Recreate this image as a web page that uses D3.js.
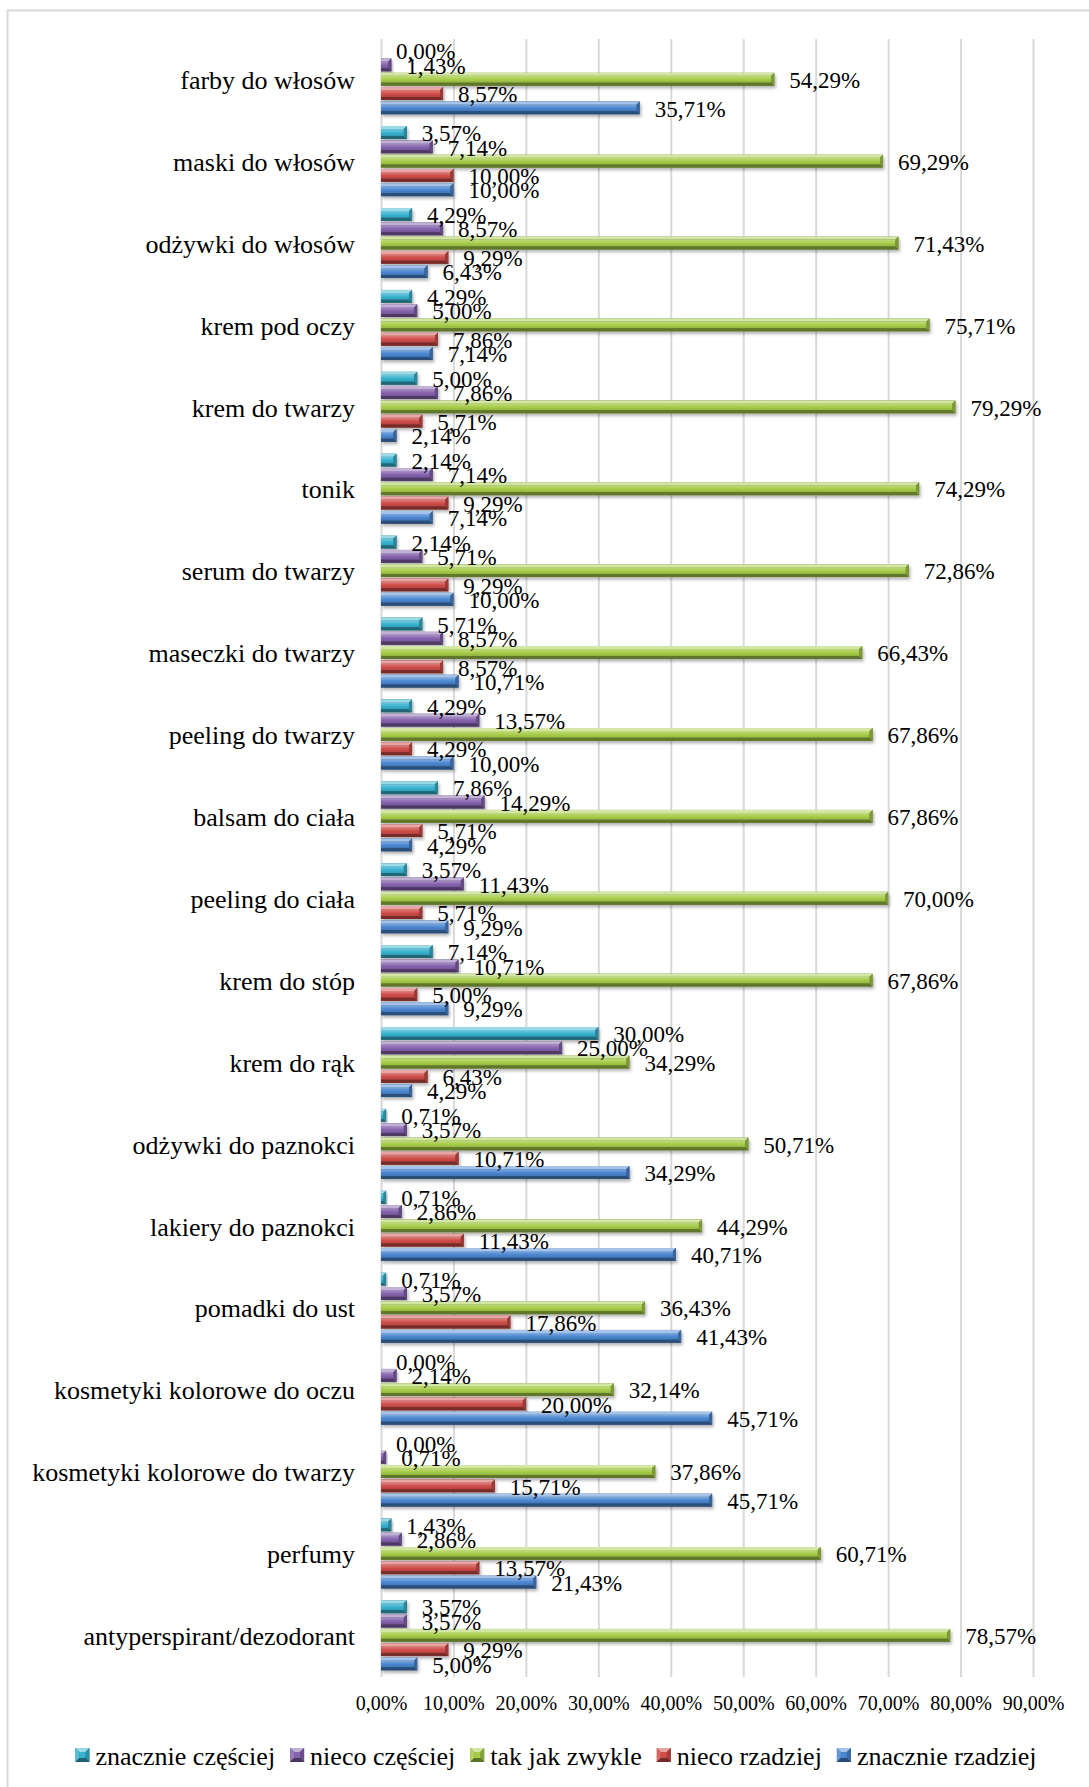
<!DOCTYPE html>
<html lang="pl">
<head>
<meta charset="utf-8">
<script src="https://cdn.jsdelivr.net/npm/d3@7"></script>
<style>
  html, body { margin: 0; padding: 0; background: #fff; }
  svg { display: block; font-family: "Liberation Serif", "Times New Roman", serif; }
</style>
</head>
<body>
<svg id="chart" width="1089" height="1787"></svg>
<script>
// Categories, top to bottom
const categories = [
  "farby do włosów", "maski do włosów", "odżywki do włosów", "krem pod oczy",
  "krem do twarzy", "tonik", "serum do twarzy", "maseczki do twarzy",
  "peeling do twarzy", "balsam do ciała", "peeling do ciała", "krem do stóp",
  "krem do rąk", "odżywki do paznokci", "lakiery do paznokci", "pomadki do ust",
  "kosmetyki kolorowe do oczu", "kosmetyki kolorowe do twarzy", "perfumy",
  "antyperspirant/dezodorant"
];

// Series names, in the order drawn inside each category (top to bottom)
const seriesNames = ["znacznie częściej", "nieco częściej", "tak jak zwykle", "nieco rzadziej", "znacznie rzadziej"];

// Percentages per series, one value per category
const znacznieCzesciej = [0.00, 3.57, 4.29, 4.29, 5.00, 2.14, 2.14, 5.71, 4.29, 7.86, 3.57, 7.14, 30.00, 0.71, 0.71, 0.71, 0.00, 0.00, 1.43, 3.57];
const niecoCzesciej    = [1.43, 7.14, 8.57, 5.00, 7.86, 7.14, 5.71, 8.57, 13.57, 14.29, 11.43, 10.71, 25.00, 3.57, 2.86, 3.57, 2.14, 0.71, 2.86, 3.57];
const takJakZwykle     = [54.29, 69.29, 71.43, 75.71, 79.29, 74.29, 72.86, 66.43, 67.86, 67.86, 70.00, 67.86, 34.29, 50.71, 44.29, 36.43, 32.14, 37.86, 60.71, 78.57];
const niecoRzadziej    = [8.57, 10.00, 9.29, 7.86, 5.71, 9.29, 9.29, 8.57, 4.29, 5.71, 5.71, 5.00, 6.43, 10.71, 11.43, 17.86, 20.00, 15.71, 13.57, 9.29];
const znacznieRzadziej = [35.71, 10.00, 6.43, 7.14, 2.14, 7.14, 10.00, 10.71, 10.00, 4.29, 9.29, 9.29, 4.29, 34.29, 40.71, 41.43, 45.71, 45.71, 21.43, 5.00];

// Axis ticks
const xTicks = [0, 10, 20, 30, 40, 50, 60, 70, 80, 90];

const seriesValues = [znacznieCzesciej, niecoCzesciej, takJakZwykle, niecoRzadziej, znacznieRzadziej];
const seriesColors = ["#38b2cf", "#8462ad", "#a6cc48", "#cf4c49", "#4a86d0"];
const seriesIds = ["s0", "s1", "s2", "s3", "s4"];

const fmt = v => d3.format(".2f")(v).replace(".", ",") + "%";
const lighten = (c, t) => d3.interpolateRgb(c, "#ffffff")(t);
const darken = (c, t) => d3.interpolateRgb(c, "#000000")(t);

const svg = d3.select("#chart");
const defs = svg.append("defs");

// Soft drop shadow under the bars
const shadow = defs.append("filter").attr("id", "barShadow")
  .attr("x", "-10%").attr("y", "-40%").attr("width", "130%").attr("height", "220%");
shadow.append("feDropShadow")
  .attr("dx", 1.5).attr("dy", 2.5).attr("stdDeviation", 1.6)
  .attr("flood-color", "#000").attr("flood-opacity", 0.3);

// Front face gradient for each series
seriesColors.forEach((c, i) => {
  const g = defs.append("linearGradient").attr("id", "grad" + i)
    .attr("x1", 0).attr("y1", 0).attr("x2", 0).attr("y2", 1);
  g.append("stop").attr("offset", "0%").attr("stop-color", lighten(c, 0.3));
  g.append("stop").attr("offset", "55%").attr("stop-color", c);
  g.append("stop").attr("offset", "100%").attr("stop-color", darken(c, 0.12));
});

// Chart border
svg.append("rect")
  .attr("x", 7.5).attr("y", 10.5).attr("width", 1200).attr("height", 1900)
  .attr("fill", "none").attr("stroke", "#d9d9d9").attr("stroke-width", 2);

const plotTop = 39, plotBottom = 1677;
const x = d3.scaleLinear().domain([0, 90]).range([381, 1033]);
const y = d3.scaleBand().domain(categories).range([plotTop, plotBottom])
  .paddingInner(0.127).paddingOuter(0.0635);
const ySeries = d3.scaleBand().domain(seriesIds).range([0, y.bandwidth()]);

// Vertical gridlines
const grid = svg.append("g")
  .attr("transform", `translate(0,${plotTop})`)
  .call(d3.axisBottom(x).tickValues(xTicks).tickSize(plotBottom - plotTop).tickFormat(""));
grid.select(".domain").remove();
grid.selectAll(".tick line").attr("stroke", "#d9d9d9").attr("stroke-width", 2);

// Tick labels
const axis = svg.append("g")
  .attr("transform", `translate(0,${plotBottom})`)
  .call(d3.axisBottom(x).tickValues(xTicks).tickSize(0).tickPadding(0)
    .tickFormat(d => d3.format(".2f")(d).replace(".", ",") + "%"));
axis.select(".domain").remove();
axis.selectAll(".tick text")
  .attr("y", 33).attr("dy", 0)
  .attr("font-family", "Liberation Serif, serif")
  .attr("font-size", 20).attr("fill", "#000");

// Category labels
svg.append("g").selectAll("text")
  .data(categories).join("text")
  .attr("x", 355)
  .attr("y", d => y(d) + y.bandwidth() / 2 + 9)
  .attr("text-anchor", "end")
  .attr("font-size", 26)
  .attr("fill", "#000")
  .text(d => d);

// Bars
const barData = [];
categories.forEach((cat, ci) => {
  seriesValues.forEach((vals, si) => {
    barData.push({ cat, si, value: vals[ci] });
  });
});

const barH = ySeries.bandwidth() * 0.9;

// Bevelled bar: front face, light top edge, dark bottom edge, slanted end facet
function drawBevelBar(g, w, h, c, withShadow) {
  const b = Math.min(3, w / 2, h / 4);
  g.append("rect")
    .attr("x", 0).attr("y", 0).attr("width", w).attr("height", h)
    .attr("fill", darken(c, 0.35))
    .attr("filter", withShadow ? "url(#barShadow)" : null);
  g.append("rect")
    .attr("x", 0).attr("y", b).attr("width", Math.max(0, w - b)).attr("height", h - 2 * b)
    .attr("fill", `url(#grad${seriesColors.indexOf(c)})`);
  g.append("path")
    .attr("d", `M0,0 L${w},0 L${w - b},${b} L0,${b} Z`)
    .attr("fill", lighten(c, 0.5));
  g.append("path")
    .attr("d", `M0,${h - b} L${w - b},${h - b} L${w},${h} L0,${h} Z`)
    .attr("fill", darken(c, 0.42));
  g.append("path")
    .attr("d", `M${w - b},${b} L${w},0 L${w},${h} L${w - b},${h - b} Z`)
    .attr("fill", darken(c, 0.25));
}

svg.append("g").selectAll("g.bar")
  .data(barData.filter(d => d.value > 0)).join("g")
  .attr("class", "bar")
  .attr("transform", d => `translate(${x(0)},${y(d.cat) + ySeries(seriesIds[d.si])})`)
  .each(function (d) {
    drawBevelBar(d3.select(this), x(d.value) - x(0), barH, seriesColors[d.si], true);
  });

// Value labels
svg.append("g").selectAll("text")
  .data(barData).join("text")
  .attr("x", d => x(d.value) + 15)
  .attr("y", d => y(d.cat) + ySeries(seriesIds[d.si]) + ySeries.bandwidth() / 2 + 8)
  .attr("font-size", 23)
  .attr("fill", "#000")
  .text(d => fmt(d.value));

// Legend
const legend = svg.append("g");
let lx = 0;
seriesNames.forEach((name, i) => {
  const it = legend.append("g");
  const c = seriesColors[i];
  it.append("rect").attr("width", 14).attr("height", 14).attr("fill", darken(c, 0.3));
  it.append("path").attr("d", "M0,0 L14,0 L10,4 L4,4 Z").attr("fill", lighten(c, 0.5));
  it.append("path").attr("d", "M0,0 L4,4 L4,10 L0,14 Z").attr("fill", lighten(c, 0.15));
  it.append("path").attr("d", "M14,0 L10,4 L10,10 L14,14 Z").attr("fill", darken(c, 0.2));
  it.append("path").attr("d", "M0,14 L4,10 L10,10 L14,14 Z").attr("fill", darken(c, 0.45));
  it.append("rect").attr("x", 4).attr("y", 4).attr("width", 6).attr("height", 6).attr("fill", c);
  const t = it.append("text").attr("x", 20).attr("y", 17).attr("font-size", 26)
    .attr("fill", "#000").text(name);
  const tw = t.node().getComputedTextLength();
  it.attr("transform", `translate(${lx},0)`);
  lx += 20 + tw + 15;
});
const legendW = lx - 15;
legend.attr("transform", `translate(${556 - legendW / 2},1748)`);
</script>
</body>
</html>
